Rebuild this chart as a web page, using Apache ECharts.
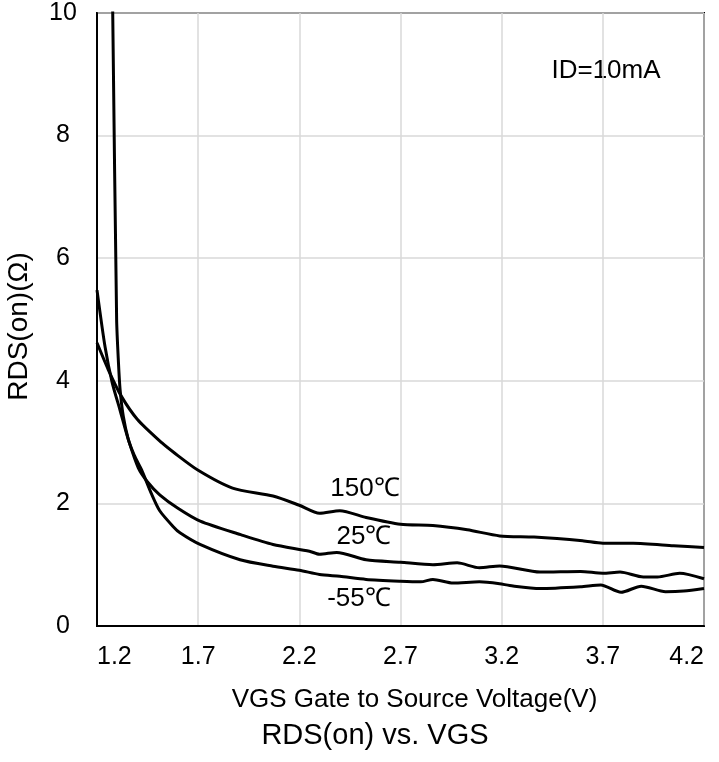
<!DOCTYPE html>
<html>
<head>
<meta charset="utf-8">
<script src="https://cdn.jsdelivr.net/npm/echarts@6/dist/echarts.min.js"></script>
<style>html,body{margin:0;padding:0;background:#fff}#c{width:719px;height:762px}</style>
</head>
<body>
<div id="c"></div>
<script>
// Data (VGS in V, RDS(on) in Ohm)
const vgs150 = [1.20,1.256,1.32,1.40,1.52,1.58,1.70,1.87,2.07,2.20,2.30,2.40,2.53,2.70,2.86,3.03,3.19,3.36,3.60,3.70,3.85,4.05,4.20];
const rds150 = [4.62,4.18,3.75,3.37,2.99,2.83,2.54,2.25,2.12,1.97,1.84,1.88,1.77,1.66,1.64,1.57,1.47,1.45,1.39,1.35,1.35,1.31,1.28];

const vgs25 = [1.20,1.24,1.275,1.314,1.355,1.404,1.45,1.51,1.60,1.71,1.91,2.07,2.25,2.30,2.385,2.53,2.70,2.86,2.98,3.09,3.19,3.39,3.59,3.70,3.785,3.90,3.97,4.08,4.20];
const rds25 = [5.48,4.55,3.97,3.52,3.04,2.58,2.35,2.14,1.92,1.71,1.49,1.33,1.22,1.17,1.20,1.08,1.04,1.00,1.03,0.95,0.98,0.88,0.89,0.86,0.88,0.80,0.80,0.86,0.77];

const vgsM55 = [1.277,1.297,1.306,1.314,1.33,1.355,1.385,1.42,1.47,1.51,1.577,1.61,1.709,1.907,2.07,2.20,2.30,2.40,2.53,2.70,2.80,2.86,2.96,3.09,3.19,3.24,3.39,3.59,3.69,3.79,3.89,4.01,4.10,4.20];
const rdsM55 = [10.2,5.0,4.3,3.86,3.42,3.04,2.78,2.55,2.15,1.88,1.62,1.52,1.33,1.08,0.975,0.91,0.84,0.81,0.76,0.73,0.72,0.76,0.70,0.72,0.69,0.66,0.61,0.64,0.67,0.55,0.65,0.56,0.57,0.61];

const xTickLabels = ['1.2','1.7','2.2','2.7','3.2','3.7','4.2'];
const yTickLabels = ['0','2','4','6','8','10'];

const zip = (xs, ys) => xs.map((x, i) => [x, ys[i]]);
const FONT = '"Liberation Sans", Arial, sans-serif';

const chart = echarts.init(document.getElementById('c'), null, {renderer: 'canvas'});
const lineStyle = {color: '#000', width: 3};
const mk = (name, data) => ({
  name, type: 'line', data, showSymbol: false, symbol: 'none',
  smooth: 0.25, lineStyle, clip: true, animation: false
});

chart.setOption({
  animation: false,
  backgroundColor: '#fff',
  grid: {left: 97, right: 15, top: 13, bottom: 136, containLabel: false, outerBoundsMode: 'none',
         show: true, borderColor: '#000', borderWidth: 2, backgroundColor: 'transparent'},
  xAxis: {
    type: 'value', min: 1.2, max: 4.2, interval: 0.5,
    axisLine: {show: true, lineStyle: {color: '#000', width: 2}},
    axisTick: {show: false},
    splitLine: {show: true, lineStyle: {color: '#d9d9d9', width: 1.5}},
    axisLabel: {
      margin: 19, color: '#000', fontSize: 25, fontFamily: FONT,
      alignMinLabel: 'left', alignMaxLabel: 'right',
      formatter: v => xTickLabels[Math.round((v - 1.2) / 0.5)]
    },
    name: 'VGS Gate to Source Voltage(V)', nameLocation: 'middle', nameGap: 61,
    nameTextStyle: {color: '#000', fontSize: 26, fontFamily: FONT, padding: [0, 0, 0, 28]}
  },
  yAxis: {
    type: 'value', min: 0, max: 10, interval: 2,
    axisLine: {show: true, lineStyle: {color: '#000', width: 2}},
    axisTick: {show: false},
    splitLine: {show: true, lineStyle: {color: '#d9d9d9', width: 1.5}},
    axisLabel: {
      margin: 34, align: 'center', color: '#000', fontSize: 25, fontFamily: FONT,
      formatter: v => yTickLabels[Math.round(v / 2)]
    },
    name: 'RDS(on)(Ω)', nameLocation: 'middle', nameGap: 64,
    nameTextStyle: {color: '#000', fontSize: 28, fontFamily: FONT, padding: [0, 14, 0, 0]}
  },
  series: [
    mk('150℃', zip(vgs150, rds150)),
    mk('25℃', zip(vgs25, rds25)),
    mk('-55℃', zip(vgsM55, rdsM55))
  ],
  graphic: [
    {type: 'text', x: 375, y: 736, style: {text: 'RDS(on) vs. VGS', fill: '#000', font: '29px ' + FONT, textAlign: 'center', textVerticalAlign: 'middle'}},
    {type: 'text', x: 606, y: 71, style: {text: 'ID=10mA', fill: '#000', font: '26px ' + FONT, textAlign: 'center', textVerticalAlign: 'middle'}},
    {type: 'text', x: 365, y: 489, style: {text: '150℃', fill: '#000', font: '26px ' + FONT, textAlign: 'center', textVerticalAlign: 'middle'}},
    {type: 'text', x: 364, y: 537, style: {text: '25℃', fill: '#000', font: '26px ' + FONT, textAlign: 'center', textVerticalAlign: 'middle'}},
    {type: 'text', x: 359, y: 599, style: {text: '-55℃', fill: '#000', font: '26px ' + FONT, textAlign: 'center', textVerticalAlign: 'middle'}}
  ]
});
</script>
</body>
</html>
